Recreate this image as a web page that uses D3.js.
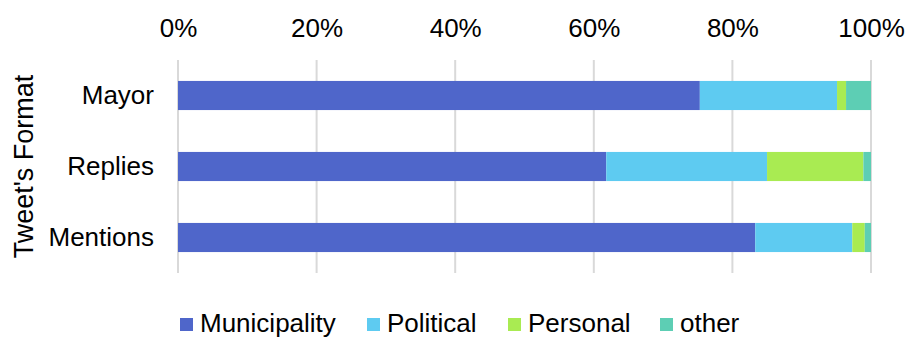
<!DOCTYPE html>
<html>
<head>
<meta charset="utf-8">
<script src="https://cdn.jsdelivr.net/npm/d3@7"></script>
<style>
  html, body { margin: 0; padding: 0; background: #fff; }
  svg { display: block; font-family: "Liberation Sans", Arial, sans-serif; }
</style>
</head>
<body>
<svg id="chart" width="909" height="341"></svg>
<script>
// Share of tweet topics by tweet format (percent)
const formats = ["Mayor", "Replies", "Mentions"];
const seriesNames = ["Municipality", "Political", "Personal", "other"];
const municipality = [75.3, 61.8, 83.3];
const political = [19.8, 23.2, 14.0];
const personal = [1.3, 13.9, 1.8];
const other = [3.6, 1.1, 0.9];
const tickValues = [0, 20, 40, 60, 80, 100];
const colors = ["#4F66CA", "#5ECBF1", "#A9EB52", "#5DCEB4"];

const FONT = "Liberation Sans, Arial, sans-serif";
const FS = 26;

const rows = formats.map((f, i) => ({
  format: f,
  Municipality: municipality[i],
  Political: political[i],
  Personal: personal[i],
  other: other[i]
}));

const svg = d3.select("#chart");
const margin = { left: 178, right: 38, top: 60, bottom: 68 };
const W = 909, H = 341;

const x = d3.scaleLinear().domain([0, 100]).range([margin.left, W - margin.right]);
const y = d3.scaleBand().domain(formats).range([margin.top, H - margin.bottom]).paddingInner(0.59).paddingOuter(0.295);
const color = d3.scaleOrdinal().domain(seriesNames).range(colors);

// vertical gridlines
svg.append("g")
  .selectAll("line")
  .data(tickValues)
  .join("line")
  .attr("x1", d => x(d)).attr("x2", d => x(d))
  .attr("y1", margin.top).attr("y2", H - margin.bottom)
  .attr("stroke", "#d9d9d9").attr("stroke-width", 2);

// top axis labels
const xAxis = d3.axisTop(x).tickValues(tickValues).tickFormat(d => d + "%").tickSize(0).tickPadding(0);
const gx = svg.append("g").attr("transform", `translate(0, 37)`).call(xAxis);
gx.select(".domain").remove();
gx.selectAll("text").attr("font-size", FS).attr("fill", "#000").attr("font-family", FONT);

// stacked bars
const stacked = d3.stack().keys(seriesNames)(rows);
svg.append("g")
  .selectAll("g")
  .data(stacked)
  .join("g")
  .attr("fill", d => color(d.key))
  .selectAll("rect")
  .data(d => d)
  .join("rect")
  .attr("x", d => x(d[0]))
  .attr("width", d => x(d[1]) - x(d[0]))
  .attr("y", d => y(d.data.format))
  .attr("height", y.bandwidth());

// category axis
const yAxis = d3.axisLeft(y).tickSize(0).tickPadding(24);
const gy = svg.append("g").attr("transform", `translate(${margin.left}, 0)`).call(yAxis);
gy.select(".domain").remove();
gy.selectAll("text").attr("font-size", FS).attr("fill", "#000").attr("font-family", FONT);

// axis title
svg.append("text")
  .attr("transform", `translate(33, ${(margin.top + H - margin.bottom) / 2}) rotate(-90)`)
  .attr("text-anchor", "middle")
  .attr("font-size", 27)
  .attr("font-family", FONT)
  .attr("fill", "#000")
  .text("Tweet's Format");

// legend
const legendX = [180, 367, 508, 660];
const legend = svg.append("g");
seriesNames.forEach((name, i) => {
  const g = legend.append("g").attr("transform", `translate(${legendX[i]}, 318)`);
  g.append("rect").attr("width", 13).attr("height", 13).attr("fill", color(name));
  g.append("text").attr("x", 20).attr("y", 14).attr("font-size", FS).attr("font-family", FONT).attr("fill", "#000").text(name);
});
</script>
</body>
</html>
